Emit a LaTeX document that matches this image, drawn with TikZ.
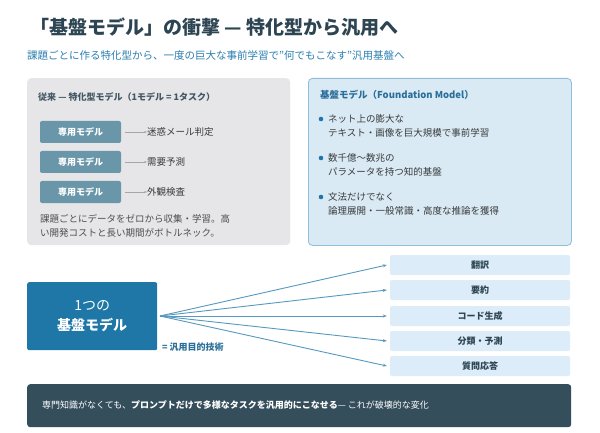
\documentclass[tikz,border=0pt]{standalone}
\usepackage{fontspec}
\setmainfont{Noto Sans CJK JP}
\usetikzlibrary{arrows.meta}
\definecolor{ttl}{HTML}{2D4452}
\definecolor{blu}{HTML}{2A7FB0}
\definecolor{dblu}{HTML}{2A6E99}
\definecolor{gbox}{HTML}{E6E6E8}
\definecolor{pill}{HTML}{6A96AA}
\definecolor{lbox}{HTML}{D9EAF5}
\definecolor{lbord}{HTML}{8DBFDC}
\definecolor{big}{HTML}{1F77A8}
\definecolor{task}{HTML}{DCEDF9}
\definecolor{ban}{HTML}{344E5C}
\definecolor{txt}{HTML}{3A3A3A}
\begin{document}
\begin{tikzpicture}[x=1pt,y=-1pt,
 pillS/.style={fill=pill,rounded corners=2pt,minimum width=81pt,minimum height=22pt,text=white,font=\fontsize{9}{10}\selectfont\bfseries},
 garr/.style={-{Stealth[length=3pt]},draw=gray!70,line width=0.8pt},
 lab/.style={anchor=west,text=txt,font=\fontsize{9.5}{11}\selectfont,inner sep=0},
 taskS/.style={fill=task,rounded corners=2pt,minimum width=180pt,minimum height=20pt,text=ttl,font=\fontsize{9}{10}\selectfont\bfseries},
 farr/.style={-{Stealth[length=4pt]},draw=blu!80,line width=0.9pt},
 bl/.style={anchor=west,text=txt,font=\fontsize{9.5}{14}\selectfont,inner sep=0,align=left}]
\useasboundingbox (0,0) rectangle (600,433);
\fill[white] (0,0) rectangle (600,433);
\node[anchor=west,text=ttl,font=\fontsize{19}{22}\selectfont\bfseries,inner sep=0] (title) at (30,27) {「基盤モデル」の衝撃 — 特化型から汎用へ};
\node[anchor=west,text=blu,font=\fontsize{10.5}{12}\selectfont,inner sep=0] (sub) at (27,56) {課題ごとに作る特化型から、一度の巨大な事前学習で”何でもこなす”汎用基盤へ};
% left box
\node[fill=gbox,rounded corners=4pt,minimum width=263pt,minimum height=167pt,anchor=north west] (lb) at (27,78) {};
\node[anchor=west,text=ttl!90,font=\fontsize{9}{10}\selectfont\bfseries,inner sep=0] (lh) at (38,97) {従来 — 特化型モデル（1モデル = 1タスク）};
\foreach \i/\y/\t in {1/132/迷惑メール判定,2/162/需要予測,3/192/外観検査}{
 \node[pillS] (p\i) at (80.5,\y) {専用モデル};
 \node[lab] (t\i) at (147,\y) {\t};
 \draw[garr] (p\i.east)+(4,0) -- (t\i.west);
}
\node[bl,text=txt!90] (lt) at (40,226) {課題ごとにデータをゼロから収集・学習。高\\い開発コストと長い期間がボトルネック。};
% right box
\node[fill=lbox,draw=lbord,line width=0.8pt,rounded corners=4pt,minimum width=263pt,minimum height=167pt,anchor=north west] (rb) at (308,78) {};
\node[anchor=west,text=dblu,font=\fontsize{9.5}{11}\selectfont\bfseries,inner sep=0] (rh) at (320,95) {基盤モデル（Foundation Model）};
\foreach \i/\y/\t in {1/126/{ネット上の膨大な\\テキスト・画像を巨大規模で事前学習},2/165/{数千億〜数兆の\\パラメータを持つ知的基盤},3/204/{文法だけでなく\\論理展開・一般常識・高度な推論を獲得}}{
 \fill[big] (321,\y-7) circle (2.3pt);
 \node[bl] (b\i) at (328,\y) {\t};
}
% big box
\node[fill=big,rounded corners=2pt,minimum width=130pt,minimum height=68pt,anchor=north west] (bb) at (27,282) {};
\node[text=white,align=center,font=\fontsize{14}{20}\selectfont] (bt) at (bb.center) {1つの\\\bfseries 基盤モデル};
\node[anchor=west,text=dblu,font=\fontsize{9}{10}\selectfont\bfseries,inner sep=0] (eq) at (162,347) {= 汎用目的技術};
\coordinate (o) at (160,316);
\foreach \i/\y/\t in {1/265/翻訳,2/290/要約,3/316/コード生成,4/341/分類・予測,5/366/質問応答}{
 \node[taskS] (k\i) at (480,\y) {\t};
 \draw[farr] (o) -- ([xshift=-3pt]k\i.west);
}
% banner
\node[fill=ban,rounded corners=3pt,minimum width=544pt,minimum height=43pt,anchor=north west] (bn) at (27,384) {};
\node[anchor=west,text=white,font=\fontsize{9}{10}\selectfont,inner sep=0] (bnt) at (42,405) {専門知識がなくても、\textbf{プロンプトだけで多様なタスクを汎用的にこなせる}— これが破壊的な変化};
\end{tikzpicture}
\end{document}
